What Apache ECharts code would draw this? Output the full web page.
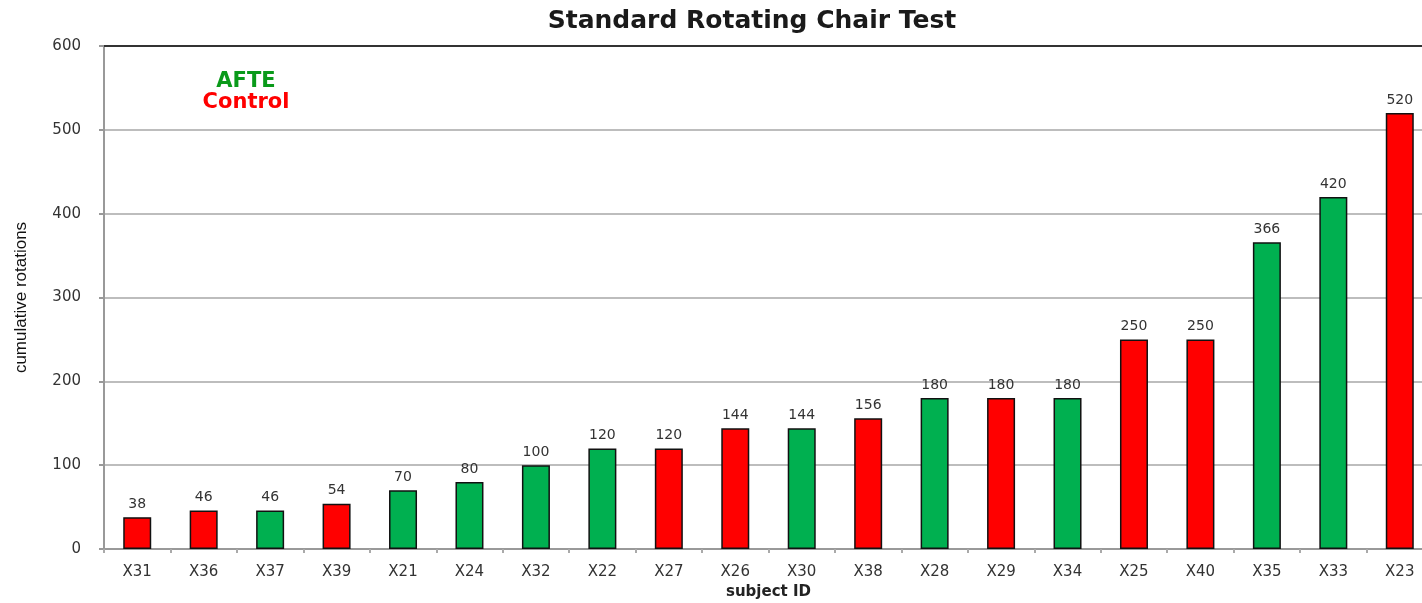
<!DOCTYPE html>
<html>
<head>
<meta charset="utf-8">
<script src="https://cdn.jsdelivr.net/npm/echarts@6/dist/echarts.min.js"></script>
<style>html,body{margin:0;padding:0;background:#fff}#c{width:1422px;height:603px}</style>
</head>
<body>
<div id="c"></div>
<script>
const categories = ['X31','X36','X37','X39','X21','X24','X32','X22','X27','X26','X30','X38','X28','X29','X34','X25','X40','X35','X33','X23'];
const values = [38,46,46,54,70,80,100,120,120,144,144,156,180,180,180,250,250,366,420,520];
const groups = ['Control','Control','AFTE','Control','AFTE','AFTE','AFTE','AFTE','Control','Control','AFTE','Control','AFTE','Control','AFTE','Control','Control','AFTE','AFTE','Control'];
const yTicks = [0,100,200,300,400,500,600];
const groupColors = {AFTE:'#00B050', Control:'#FF0000'};

const chart = echarts.init(document.getElementById('c'));
chart.setOption({
  animation:false,
  backgroundColor:'#fff',
  title:{text:'Standard Rotating Chair Test', left:747, top:4, textAlign:'center',
    textStyle:{fontFamily:'DejaVu Sans', fontWeight:'bold', fontSize:25, color:'#1a1a1a'}},
  graphic:[
    {type:'text', x:246, y:71, style:{text:'AFTE', fill:'#0a9a1a', font:'bold 21px "DejaVu Sans"', textAlign:'center'}},
    {type:'text', x:246, y:92, style:{text:'Control', fill:'#FF0000', font:'bold 21px "DejaVu Sans"', textAlign:'center'}}
  ],
  grid:{left:104, top:46, bottom:54, width:1329, containLabel:false, outerBoundsMode:'none'},
  xAxis:[{type:'category', data:categories,
    name:'subject ID', nameLocation:'middle', nameGap:36,
    nameTextStyle:{fontFamily:'DejaVu Sans', fontWeight:'bold', fontSize:15, color:'#222'},
    axisLine:{lineStyle:{color:'#999', width:2}},
    axisTick:{show:true, length:4, lineStyle:{color:'#aaa', width:2}},
    axisLabel:{margin:16, fontFamily:'DejaVu Sans', fontSize:15, color:'#333'}},
   {type:'category', data:categories, position:'top',
    axisLine:{lineStyle:{color:'#333', width:2}},
    axisTick:{show:false}, axisLabel:{show:false}}],
  yAxis:{type:'value', min:0, max:600, interval:100,
    name:'cumulative rotations', nameLocation:'middle', nameGap:74,
    nameTextStyle:{fontFamily:'"Liberation Sans Narrow","Liberation Sans"', fontSize:17, color:'#111'},
    axisLine:{show:true, lineStyle:{color:'#999', width:2}},
    axisTick:{show:true, length:5, lineStyle:{color:'#999', width:2}},
    axisLabel:{margin:23, fontFamily:'DejaVu Sans', fontSize:15, color:'#333',
      formatter:v=> yTicks.includes(v) ? String(v) : ''},
    splitLine:{lineStyle:{color:'#bdbdbd', width:2}}},
  series:[{type:'bar', data:values, barWidth:28,
    itemStyle:{color:p=>groupColors[groups[p.dataIndex]], borderColor:'#111', borderWidth:1.5},
    label:{show:true, position:'top', distance:6, fontFamily:'DejaVu Sans', fontSize:14, color:'#333'}}]
});
</script>
</body>
</html>
